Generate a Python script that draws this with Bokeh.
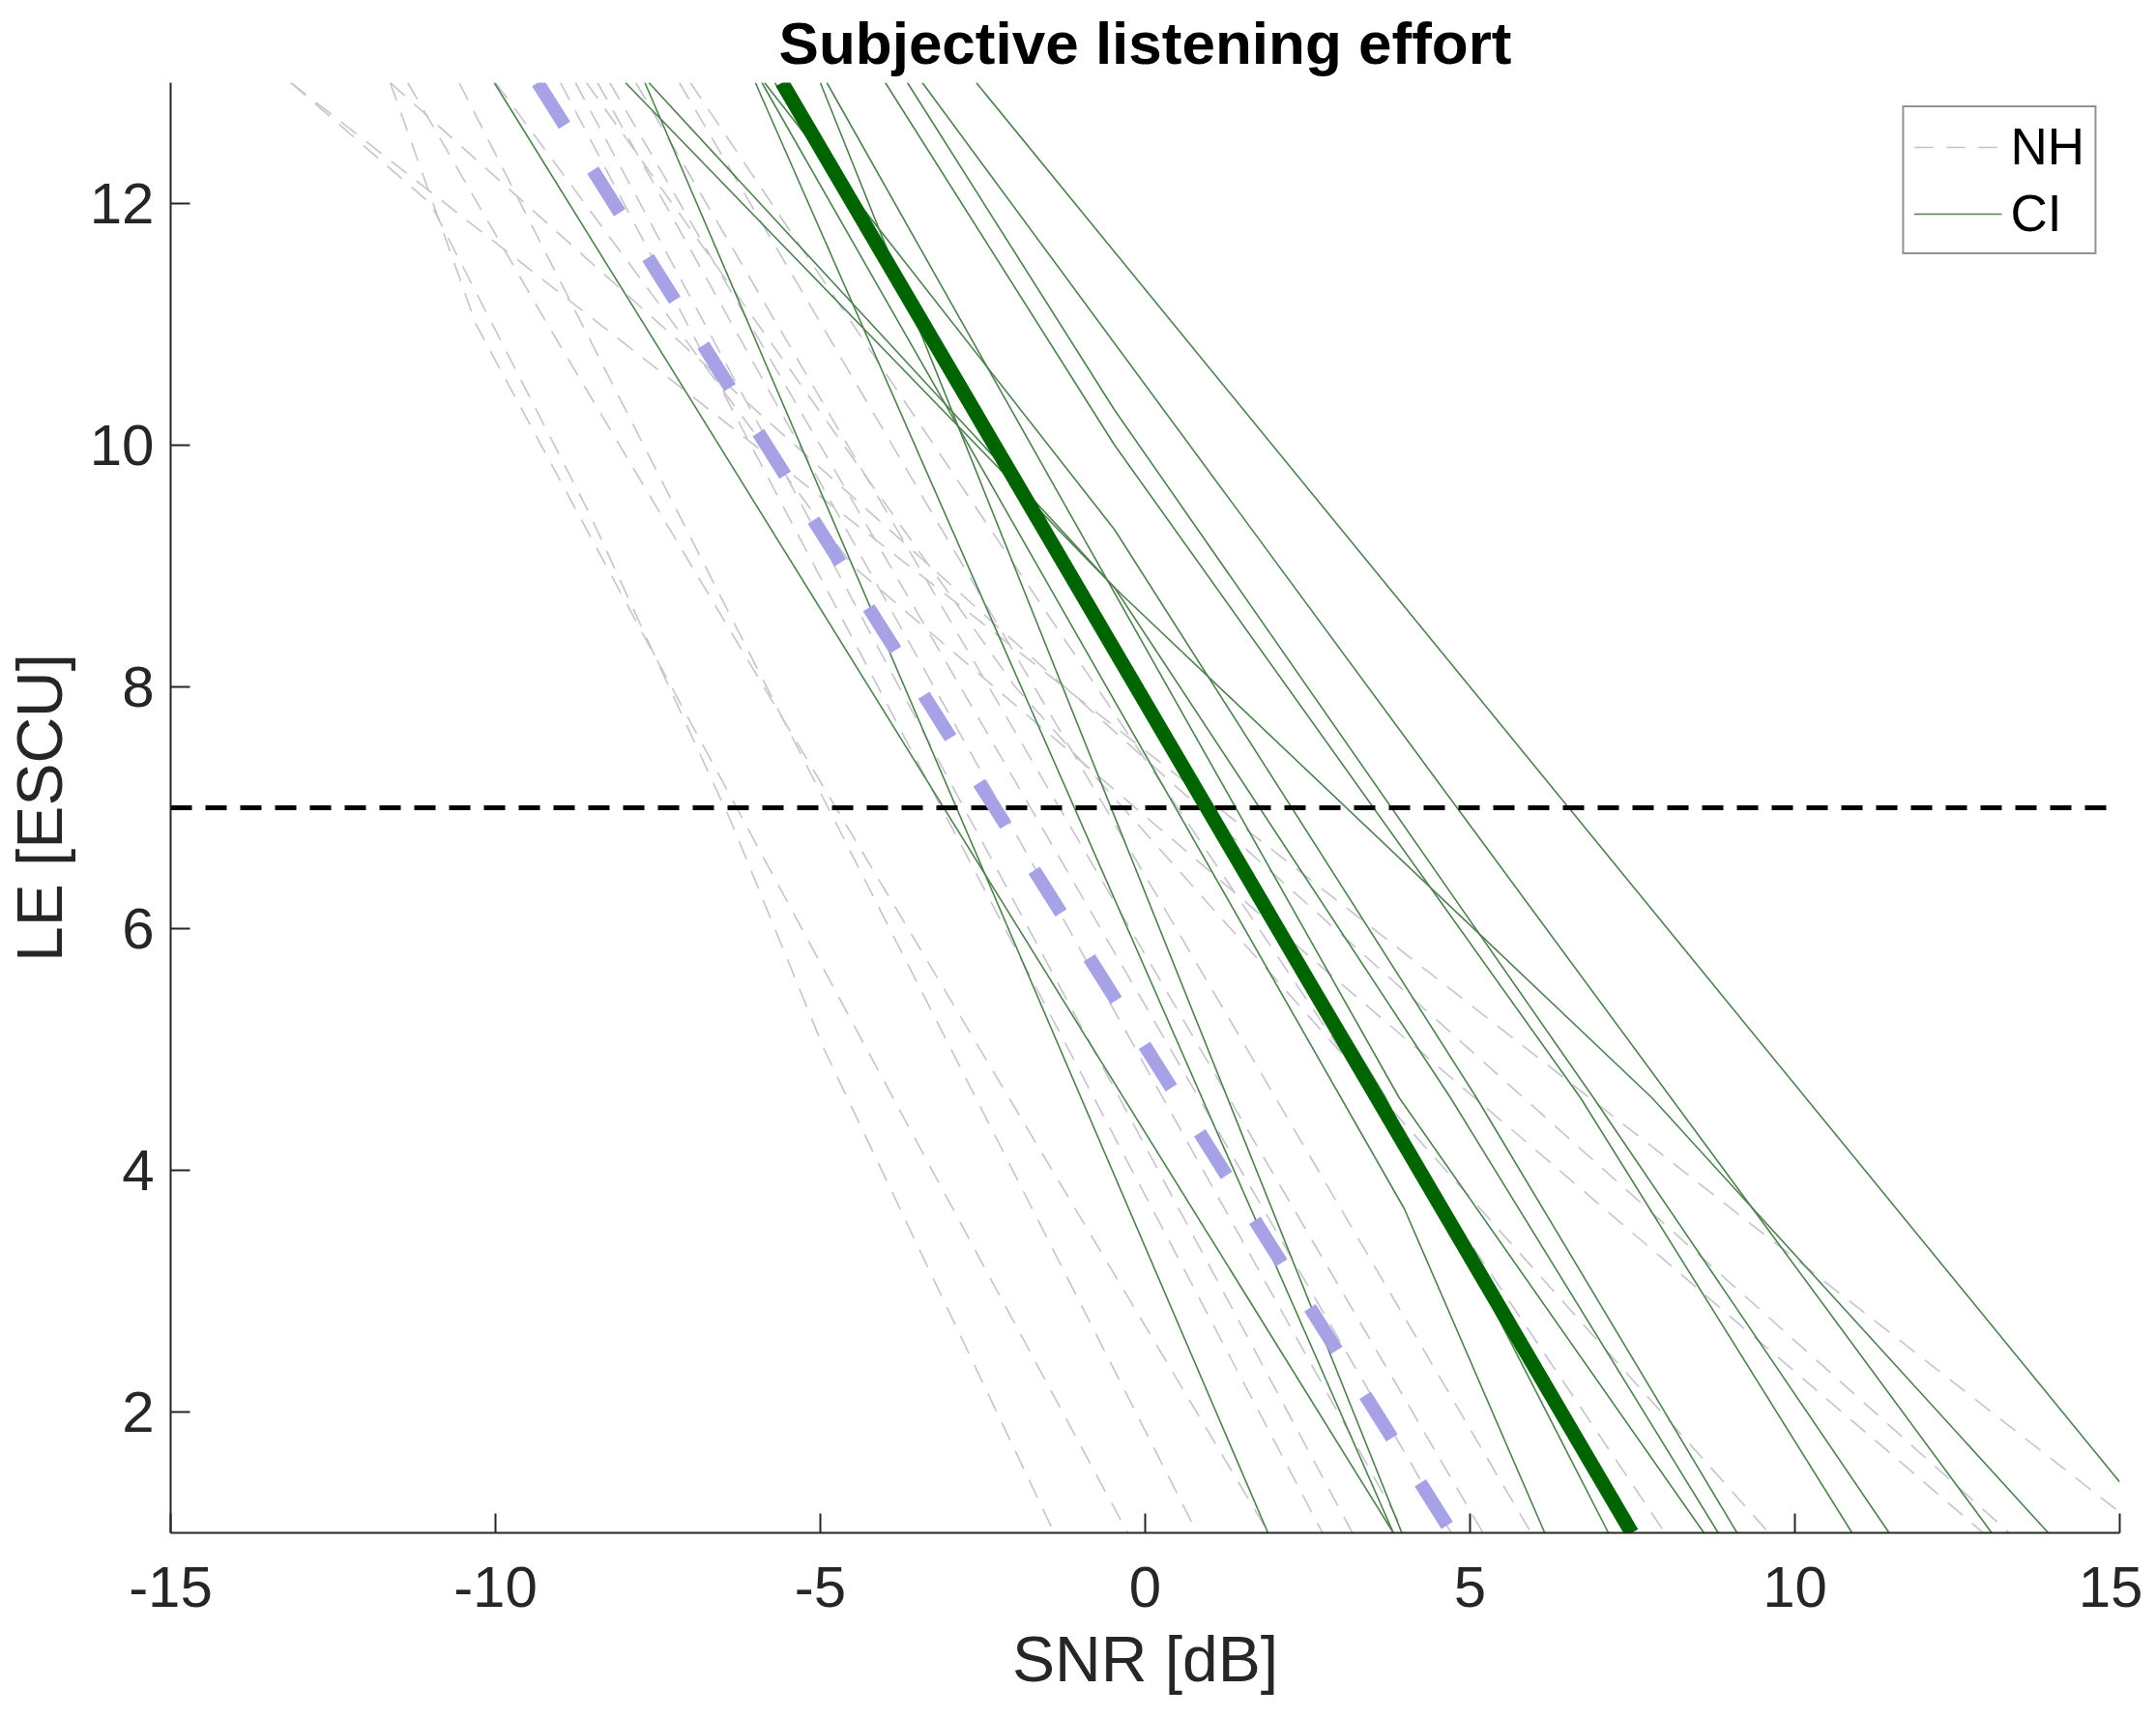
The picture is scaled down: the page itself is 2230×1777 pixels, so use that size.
from bokeh.plotting import figure
from bokeh.models import Range1d, FixedTicker, Legend, LegendItem
from bokeh.embed import file_html
from bokeh.resources import INLINE

# ---------------- data ----------------
title_text = "Subjective listening effort"
x_label = "SNR [dB]"
y_label = "LE [ESCU]"
x_ticks = [-15, -10, -5, 0, 5, 10, 15]
y_ticks = [2, 4, 6, 8, 10, 12]
x_lim = (-15, 15)
y_lim = (1, 13)
threshold_le = 7

# individual NH fits (SNR values, LE values)
nh_x = [
    [-13.15, 15.0],
    [-11.62, 13.3],
    [-13.15, -11.0, -8.55, -6.37, -4.94, -1.4],
    [-11.62, -10.3, -0.27],
    [-10.56, 0.80],
    [-11.35, -9.2, 1.9],
    [-9.0, 2.73],
    [-8.77, 3.19],
    [-8.43, 4.0],
    [-8.24, 4.71],
    [-7.84, 5.2],
    [-7.17, 5.94],
    [-7.0, 8.0],
    [-8.6, -2.0, 9.6],
    [-10.0, -4.5, 12.9],
]
nh_y = [
    [13, 1.17],
    [13, 1],
    [13, 12.0, 9.43, 6.88, 5.0, 1],
    [13, 11.0, 1],
    [13, 1],
    [13, 11.0, 1],
    [13, 1],
    [13, 1],
    [13, 1],
    [13, 1],
    [13, 1],
    [13, 1],
    [13, 1],
    [13, 8.0, 1],
    [13, 9.0, 1],
]

# individual CI fits
ci_x = [
    [-2.6, 15.0],
    [-3.43, 13.03],
    [-8.0, -0.47, 7.8, 13.9],
    [-3.66, -0.47, 6.9, 11.45],
    [-4.0, -0.47, 6.7, 10.88],
    [-5.86, -0.47, 5.1, 9.11],
    [-7.64, -0.47, 4.7, 8.82],
    [-4.9, 3.91, 8.6],
    [-5.9, 3.99, 6.15],
    [-10.02, 3.82],
    [-7.7, 1.89],
    [-6.0, 3.82],
    [-5.0, 3.95],
    [-5.7, 3.7, 7.13],
]
ci_y = [
    [13, 1.42],
    [13, 1],
    [13, 8.82, 4.6, 1],
    [13, 10.29, 4.6, 1],
    [13, 10.0, 4.6, 1],
    [13, 9.3, 4.6, 1],
    [13, 8.82, 4.6, 1],
    [13, 4.6, 1],
    [13, 3.68, 1],
    [13, 1],
    [13, 1],
    [13, 1],
    [13, 1],
    [13, 4.6, 1],
]

# group means
nh_mean_x = [-9.35, 4.72]
nh_mean_y = [13, 1]
ci_mean_x = [-5.59, 7.49]
ci_mean_y = [13, 1]

# ---------------- styling ----------------
FONT = "Liberation Sans"
AX = "#262626"
NH_COL = "#c4c4ce"
CI_COL = "#4f804f"

p = figure(frame_width=2016, frame_height=1500,
           x_range=Range1d(*x_lim), y_range=Range1d(*y_lim),
           output_backend="svg", toolbar_location=None,
           min_border_left=173, min_border_right=24,
           min_border_top=85, min_border_bottom=184)
p.background_fill_color = "white"
p.border_fill_color = "white"
p.outline_line_color = None
p.grid.visible = False

p.title.text = title_text
p.title.align = "center"
p.title.text_font = FONT
p.title.text_font_size = "62px"
p.title.text_font_style = "bold"
p.title.text_color = "black"
p.title.standoff = 14

nh_r = None
for xs, ys in zip(nh_x, nh_y):
    r = p.line(xs, ys, line_color=NH_COL, line_width=1.6, line_dash="20 13")
    nh_r = nh_r or r

ci_r = None
for xs, ys in zip(ci_x, ci_y):
    r = p.line(xs, ys, line_color=CI_COL, line_width=1.6)
    ci_r = ci_r or r

p.line(list(x_lim), [threshold_le, threshold_le], line_color="black",
       line_width=5, line_dash="22 14")

p.line(nh_mean_x, nh_mean_y, line_color="#a7a2e5", line_width=14,
       line_dash="52 55")
p.line(ci_mean_x, ci_mean_y, line_color="#006400", line_width=15)

# axes
for ax in (p.xaxis[0], p.yaxis[0]):
    ax.axis_line_color = AX
    ax.axis_line_width = 2
    ax.major_tick_line_color = AX
    ax.major_tick_line_width = 2
    ax.major_tick_in = 20
    ax.major_tick_out = 0
    ax.minor_tick_line_color = None
    ax.major_label_text_font = FONT
    ax.major_label_text_font_size = "60px"
    ax.major_label_text_color = AX
    ax.axis_label_text_font = FONT
    ax.axis_label_text_font_style = "normal"
    ax.axis_label_text_color = AX

p.xaxis.ticker = FixedTicker(ticks=x_ticks)
p.yaxis.ticker = FixedTicker(ticks=y_ticks)
p.xaxis.major_label_overrides = {t: str(t) for t in x_ticks}
p.yaxis.major_label_overrides = {t: str(t) for t in y_ticks}
p.xaxis.major_label_standoff = 35
p.yaxis.major_label_standoff = 17

p.xaxis.axis_label = x_label
p.xaxis.axis_label_text_font_size = "66px"
p.xaxis.axis_label_standoff = 14

p.yaxis.axis_label = y_label
p.yaxis.axis_label_text_font_size = "66px"
p.yaxis.axis_label_standoff = 12

legend = Legend(items=[LegendItem(label="NH", renderers=[nh_r]),
                       LegendItem(label="CI", renderers=[ci_r])],
                location="top_right", margin=24,
                border_line_color=AX, border_line_width=2,
                background_fill_color="white", background_fill_alpha=1,
                label_text_font=FONT, label_text_font_size="53px",
                label_text_color="black",
                glyph_width=91, glyph_height=50, label_height=50,
                spacing=8, padding=10, label_standoff=9)
p.add_layout(legend)

open("out.html", "w").write(file_html(p, INLINE))
